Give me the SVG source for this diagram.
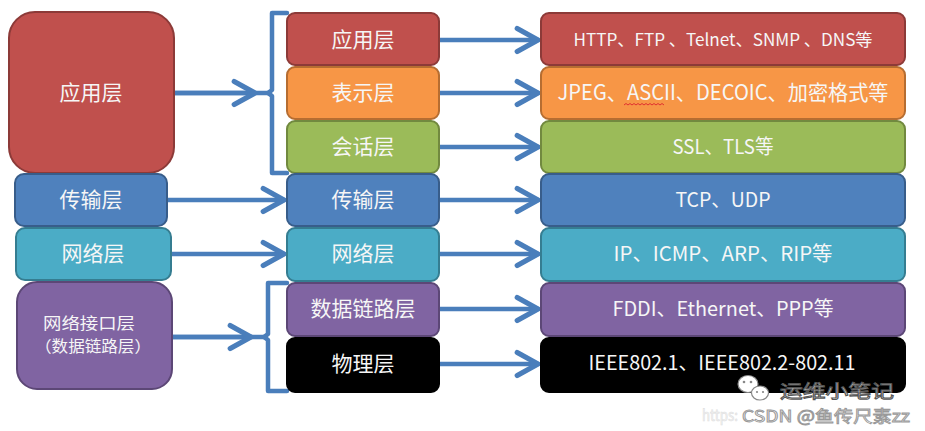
<svg xmlns="http://www.w3.org/2000/svg" width="925" height="431" viewBox="0 0 925 431">
<style>
.t{font-family:"Noto Sans CJK SC","Liberation Sans",sans-serif;fill:#F6F6F6;text-anchor:middle}
.m{font-size:21px}
.r{font-size:20px}
.ln{stroke:#4A7EBB;stroke-width:4.5;fill:none;stroke-linecap:round;stroke-linejoin:round}
.red{fill:#C0504D;stroke:#8C3A38;stroke-width:2}
.org{fill:#F79646;stroke:#B66D31;stroke-width:2}
.grn{fill:#9BBB59;stroke:#71893F;stroke-width:2}
.blu{fill:#4F81BD;stroke:#385D8A;stroke-width:2}
.cyn{fill:#4BACC6;stroke:#357D91;stroke-width:2}
.pur{fill:#8064A2;stroke:#5C4776;stroke-width:2}
.blk{fill:#000;stroke:#000;stroke-width:2}
.wm{font-family:"Noto Sans CJK SC","Liberation Sans",sans-serif}
</style>
<defs>
<marker id="chev" markerUnits="userSpaceOnUse" markerWidth="30" markerHeight="30" viewBox="-22 -12 26 24" refX="0" refY="0" orient="auto">
<path d="M-18,-10 L0,0 L-18,10" fill="none" stroke="#4A7EBB" stroke-width="4.5" stroke-linecap="round" stroke-linejoin="round"/>
</marker>
</defs>
<rect width="925" height="431" fill="#fff"/>

<g id="connectors">
<path class="ln" d="M287,13 H272 V90 L268,93 L272,96 V173 H287"/>
<path class="ln" d="M287,283 H268 V334 L264,337 L268,340 V391 H287"/>
<line class="ln" x1="174" y1="93" x2="270" y2="93"/>
<line class="ln" x1="174" y1="93" x2="255" y2="93" marker-end="url(#chev)"/>
<line class="ln" x1="172" y1="337" x2="266" y2="337"/>
<line class="ln" x1="172" y1="337" x2="251" y2="337" marker-end="url(#chev)"/>
<line class="ln" x1="167" y1="200" x2="284" y2="200" marker-end="url(#chev)"/>
<line class="ln" x1="171" y1="254" x2="284" y2="254" marker-end="url(#chev)"/>
<line class="ln" x1="439" y1="40" x2="538" y2="40" marker-end="url(#chev)"/>
<line class="ln" x1="439" y1="93" x2="538" y2="93" marker-end="url(#chev)"/>
<line class="ln" x1="439" y1="147" x2="538" y2="147" marker-end="url(#chev)"/>
<line class="ln" x1="439" y1="200" x2="538" y2="200" marker-end="url(#chev)"/>
<line class="ln" x1="439" y1="254" x2="538" y2="254" marker-end="url(#chev)"/>
<line class="ln" x1="439" y1="309" x2="538" y2="309" marker-end="url(#chev)"/>
<line class="ln" x1="439" y1="364" x2="538" y2="364" marker-end="url(#chev)"/>
</g>

<g id="left-app"><rect class="red" x="9" y="12" width="165" height="161" rx="26"/><text class="t m" x="91" y="100">应用层</text></g>
<g id="left-transport"><rect class="blu" x="15" y="174" width="152" height="52" rx="9"/><text class="t m" x="91" y="207">传输层</text></g>
<g id="left-network"><rect class="cyn" x="16" y="228" width="155" height="52" rx="9"/><text class="t m" x="93" y="261">网络层</text></g>
<g id="left-netif"><rect class="pur" x="17" y="282" width="155" height="107" rx="20"/><text class="t" font-size="15.8" x="89" y="329" textLength="92" lengthAdjust="spacingAndGlyphs">网络接口层</text><text class="t" font-size="15.8" x="93" y="352" textLength="116" lengthAdjust="spacingAndGlyphs">（数据链路层）</text></g>

<g id="mid-app"><rect class="red" x="287" y="13" width="152" height="52" rx="8"/><text class="t m" x="363" y="47">应用层</text></g>
<g id="mid-pres"><rect class="org" x="287" y="67" width="152" height="52" rx="8"/><text class="t m" x="363" y="100">表示层</text></g>
<g id="mid-sess"><rect class="grn" x="287" y="121" width="152" height="52" rx="8"/><text class="t m" x="363" y="154">会话层</text></g>
<g id="mid-trans"><rect class="blu" x="287" y="174" width="152" height="52" rx="8"/><text class="t m" x="363" y="207">传输层</text></g>
<g id="mid-net"><rect class="cyn" x="287" y="228" width="152" height="53" rx="8"/><text class="t m" x="363" y="261">网络层</text></g>
<g id="mid-link"><rect class="pur" x="287" y="283" width="152" height="53" rx="8"/><text class="t m" x="363" y="316">数据链路层</text></g>
<g id="mid-phy"><rect class="blk" x="287" y="338" width="152" height="54" rx="8"/><text class="t m" x="363" y="371">物理层</text></g>

<g id="r-app"><rect class="red" x="541" y="13" width="364" height="52" rx="8"/><text class="t" font-size="17" x="723" y="46" textLength="299" lengthAdjust="spacingAndGlyphs">HTTP、FTP 、Telnet、SNMP 、DNS等</text></g>
<g id="r-pres"><rect class="org" x="541" y="67" width="364" height="52" rx="8"/><text class="t" font-size="21" x="723" y="100" textLength="331" lengthAdjust="spacingAndGlyphs">JPEG、ASCII、DECOIC、加密格式等</text><path d="M624,105 l2,-1.5 l2,1.5 l2,-1.5 l2,1.5 l2,-1.5 l2,1.5 l2,-1.5 l2,1.5 l2,-1.5 l2,1.5 l2,-1.5 l2,1.5 l2,-1.5 l2,1.5 l2,-1.5 l2,1.5 l2,-1.5 l2,1.5 l2,-1.5 l2,1.5" fill="none" stroke="#E03030" stroke-width="1"/></g>
<g id="r-sess"><rect class="grn" x="541" y="121" width="364" height="52" rx="8"/><text class="t r" x="723" y="154" textLength="101" lengthAdjust="spacingAndGlyphs">SSL、TLS等</text></g>
<g id="r-trans"><rect class="blu" x="541" y="174" width="364" height="52" rx="8"/><text class="t r" x="723" y="207" textLength="95" lengthAdjust="spacingAndGlyphs">TCP、UDP</text></g>
<g id="r-net"><rect class="cyn" x="541" y="228" width="364" height="53" rx="8"/><text class="t r" x="723" y="261" textLength="219" lengthAdjust="spacingAndGlyphs">IP、ICMP、ARP、RIP等</text></g>
<g id="r-link"><rect class="pur" x="541" y="283" width="364" height="53" rx="8"/><text class="t r" x="723" y="316" textLength="221" lengthAdjust="spacingAndGlyphs">FDDI、Ethernet、PPP等</text></g>
<g id="r-phy"><rect class="blk" x="541" y="338" width="364" height="54" rx="8"/><text class="t r" x="722" y="370" textLength="267" lengthAdjust="spacingAndGlyphs">IEEE802.1、IEEE802.2-802.11</text></g>

<g id="watermark">
<ellipse cx="748" cy="384" rx="10" ry="8.5" fill="#fff" stroke="#888" stroke-width="1.2"/>
<ellipse cx="760" cy="393" rx="8.5" ry="7" fill="#fff" stroke="#888" stroke-width="1.2"/>
<circle cx="744" cy="382" r="1.3" fill="#888"/><circle cx="751" cy="382" r="1.3" fill="#888"/>
<circle cx="757" cy="392" r="1.1" fill="#888"/><circle cx="763" cy="392" r="1.1" fill="#888"/>
<text class="wm" x="837" y="398" font-size="18" text-anchor="middle" fill="#fff" stroke="#555" stroke-width="1" textLength="114" lengthAdjust="spacingAndGlyphs">运维小笔记</text>
<text class="wm" x="702" y="421" font-size="15" fill="#f4f4f4" stroke="#e0e0e0" stroke-width="0.6" textLength="36" lengthAdjust="spacingAndGlyphs">https:</text>
<text class="wm" x="826" y="422" font-size="16" text-anchor="middle" fill="#fff" stroke="#999" stroke-width="0.9" textLength="168" lengthAdjust="spacingAndGlyphs">CSDN @鱼传尺素zz</text>
</g>
</svg>
